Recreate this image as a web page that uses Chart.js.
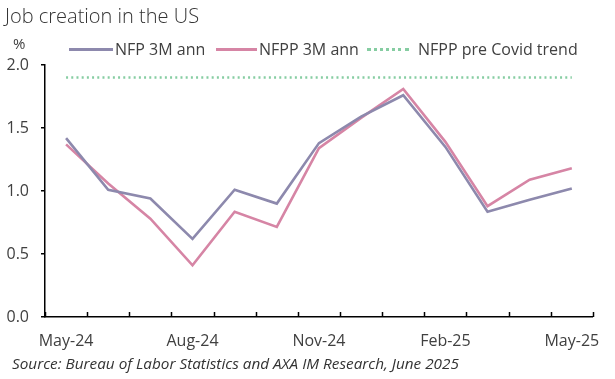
<!DOCTYPE html>
<html>
<head>
<meta charset="utf-8">
<script src="https://cdn.jsdelivr.net/npm/chart.js@4"></script>
<style>
    html, body { margin: 0; padding: 0; background: #fff; }
    #wrap { position: relative; width: 615px; height: 379px; font-family: "Open Sans", sans-serif; color: #404040; }
    #wrap canvas { position: absolute; left: 0; top: 0; }
    .txt { position: absolute; white-space: nowrap; }
    .title { left: 5px; top: 2px; font-size: 20px; font-weight: 300; color: #333; }
    .unit { left: 13px; top: 33px; font-size: 15px; }
    .source { left: 12px; top: 353px; font-size: 15.3px; font-style: italic; color: #333; }
    .leg { position: absolute; top: 39px; height: 20px; font-size: 16px; line-height: 20px; white-space: nowrap; }
    .leg .ln { position: absolute; top: 9px; height: 0; }
</style>
</head>
<body>
<div id="wrap">
    <canvas id="chart" width="615" height="379"></canvas>
    <div class="txt title">Job creation in the US</div>
    <div class="txt unit">%</div>
    <div id="legend"></div>
    <div class="txt source">Source: Bureau of Labor Statistics and AXA IM Research, June 2025</div>
</div>
<script>
// Dados do gráfico
const months = ['May-24', 'Jun-24', 'Jul-24', 'Aug-24', 'Sep-24', 'Oct-24', 'Nov-24',
                'Dec-24', 'Jan-25', 'Feb-25', 'Mar-25', 'Apr-25', 'May-25'];
const nfp3m = [1.42, 1.01, 0.94, 0.62, 1.01, 0.90, 1.38, 1.59, 1.76, 1.35, 0.835, 0.93, 1.02];
const nfpp3m = [1.37, 1.06, 0.78, 0.41, 0.835, 0.715, 1.34, 1.58, 1.81, 1.39, 0.88, 1.09, 1.18];
const preCovidTrend = [1.9, 1.9, 1.9, 1.9, 1.9, 1.9, 1.9, 1.9, 1.9, 1.9, 1.9, 1.9, 1.9];
const yTicks = [0, 0.5, 1.0, 1.5, 2.0];

const colors = {
    nfp: '#8d89ad',
    nfpp: '#d685a5',
    trend: '#86cda2'
};

// Legenda em HTML (linhas em vez de caixas)
const legendItems = [
    { label: 'NFP 3M ann', color: colors.nfp, style: 'solid', left: 69, lineW: 44 },
    { label: 'NFPP 3M ann', color: colors.nfpp, style: 'solid', left: 216, lineW: 41 },
    { label: 'NFPP pre Covid trend', color: colors.trend, style: 'dotted', left: 367, lineW: 42 }
];
const legendEl = document.getElementById('legend');
legendItems.forEach(item => {
    const div = document.createElement('div');
    div.className = 'leg';
    div.style.left = item.left + 'px';
    div.innerHTML = `<span class="ln" style="left:0;width:${item.lineW}px;border-top:3px ${item.style} ${item.color}"></span>` +
        `<span style="margin-left:${item.lineW + (item.style === 'dotted' ? 9 : 2)}px">${item.label}</span>`;
    legendEl.appendChild(div);
});

// Marcas do eixo x para dentro, entre as categorias
const innerTicks = {
    id: 'innerTicks',
    afterDraw(chart) {
        const x = chart.scales.x;
        const ctx = chart.ctx;
        const n = months.length;
        const step = (x.right - x.left) / n;
        ctx.save();
        ctx.strokeStyle = '#000';
        ctx.lineWidth = 1.5;
        ctx.beginPath();
        for (let i = 0; i <= n; i++) {
            const px = Math.round(x.left + i * step) + 0.5;
            ctx.moveTo(px, x.top);
            ctx.lineTo(px, x.top - 5);
        }
        ctx.stroke();
        ctx.restore();
    }
};

new Chart(document.getElementById('chart'), {
    type: 'line',
    data: {
        labels: months,
        datasets: [
            {
                label: 'NFP 3M ann',
                data: nfp3m,
                borderColor: colors.nfp,
                borderWidth: 2.6,
                pointRadius: 0,
                tension: 0
            },
            {
                label: 'NFPP 3M ann',
                data: nfpp3m,
                borderColor: colors.nfpp,
                borderWidth: 2.6,
                pointRadius: 0,
                tension: 0
            },
            {
                label: 'NFPP pre Covid trend',
                data: preCovidTrend,
                borderColor: colors.trend,
                borderWidth: 2.5,
                borderDash: [2, 3.2],
                pointRadius: 0,
                tension: 0
            }
        ]
    },
    options: {
        responsive: false,
        animation: false,
        layout: { padding: { left: 0, right: 21, top: 65, bottom: 0 } },
        plugins: {
            legend: { display: false },
            tooltip: { enabled: false }
        },
        scales: {
            x: {
                offset: true,
                grid: { display: true, drawOnChartArea: false, drawTicks: false, color: 'transparent' },
                border: { display: true, color: '#000', width: 1.5 },
                ticks: {
                    autoSkip: false,
                    maxRotation: 0,
                    padding: 15,
                    color: '#404040',
                    font: { family: 'Open Sans', size: 16 },
                    callback: (v, i) => (i % 3 === 0 ? months[i] : '')
                },
                afterFit: scale => { scale.height = 62; }
            },
            y: {
                min: 0,
                max: 2,
                afterBuildTicks: scale => { scale.ticks = yTicks.map(v => ({ value: v })); },
                grid: { drawOnChartArea: false, drawTicks: true, tickLength: 4, color: '#000', lineWidth: 1.5 },
                border: { display: true, color: '#000', width: 1.5 },
                ticks: {
                    padding: 12,
                    color: '#404040',
                    font: { family: 'Open Sans', size: 16 },
                    callback: v => Number(v).toFixed(1)
                },
                afterFit: scale => { scale.width = 45; }
            }
        }
    },
    plugins: [innerTicks]
});
</script>
</body>
</html>
